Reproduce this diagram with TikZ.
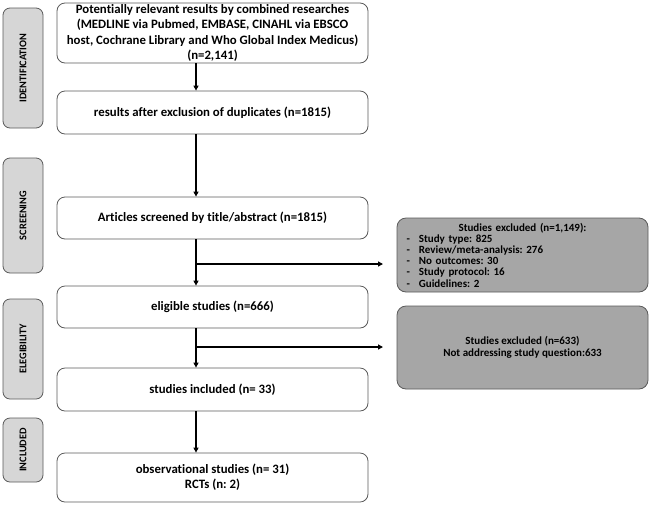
\documentclass[tikz,border=0pt]{standalone}
\usepackage{fontspec}
\setmainfont[Ligatures=NoCommon]{Carlito}
\usetikzlibrary{arrows.meta}
\definecolor{sidefill}{HTML}{D6D6D6}
\definecolor{exfill}{HTML}{A6A6A6}
\definecolor{edge}{HTML}{5A5A5A}
\frenchspacing
\begin{document}
\begin{tikzpicture}[x=1pt,y=-1pt,
  mainbox/.style={draw=edge, rounded corners=8pt, line width=0.8pt, fill=white,
    font=\bfseries\fontsize{12.8}{15.3}\selectfont, align=center, inner sep=0pt,
    minimum width=311pt},
  sidebox/.style={draw=edge, fill=sidefill, rounded corners=7pt, line width=0.8pt,
    inner sep=0pt, minimum height=40pt, rotate=90,
    font=\bfseries\fontsize{10.3}{11}\selectfont},
  exbox/.style={draw=edge, fill=exfill, rounded corners=9pt, line width=0.8pt,
    inner sep=0pt, minimum width=251pt,
    font=\bfseries\fontsize{11}{11.2}\selectfont},
  flow/.style={line width=1.5pt, -{Triangle[length=5pt,width=5pt]}}
]
\useasboundingbox (0,0) rectangle (650,504);

% side labels
\node[sidebox, minimum width=120pt] (s1) at (23,68) {IDENTIFICATION};
\node[sidebox, minimum width=115pt] (s2) at (23,215.5) {SCREENING};
\node[sidebox, minimum width=100pt] (s3) at (23,349) {ELEGIBILITY};
\node[sidebox, minimum width=64pt] (s4) at (23,450) {INCLUDED};

% main boxes
\node[mainbox, minimum height=60pt] (b1) at (212.5,33)
  {Potentially relevant results by combined researches\\
   (MEDLINE via Pubmed, EMBASE, CINAHL via EBSCO\\
   host, Cochrane Library and Who Global Index Medicus)\\
   (n=2,141)};
\node[mainbox, minimum height=43pt] (b2) at (212.5,112.5)
  {results after exclusion of duplicates (n=1815)};
\node[mainbox, minimum height=42pt] (b3) at (212.5,218)
  {Articles screened by title/abstract (n=1815)};
\node[mainbox, minimum height=42pt] (b4) at (212.5,307)
  {eligible studies (n=666)};
\node[mainbox, minimum height=43pt] (b5) at (212.5,389.5)
  {studies included (n= 33)};
\node[mainbox, minimum height=49pt] (b6) at (212.5,477.5)
  {observational studies (n= 31)\\ RCTs (n: 2)};

% exclusion boxes
\node[exbox, minimum height=74pt, text width=240pt, align=left] (x1) at (522.5,255)
  {\makebox[240pt]{Studies excluded (n=1,149):}\\
   \hspace*{4pt}-\hspace{9pt}Study type: 825\\
   \hspace*{4pt}-\hspace{9pt}Review/meta-analysis: 276\\
   \hspace*{4pt}-\hspace{9pt}No outcomes: 30\\
   \hspace*{4pt}-\hspace{9pt}Study protocol: 16\\
   \hspace*{4pt}-\hspace{9pt}Guidelines: 2};
\node[exbox, minimum height=83pt, align=center, font=\bfseries\fontsize{11}{12.5}\selectfont] (x2) at (522.5,347.5)
  {Studies excluded (n=633)\\ Not addressing study question:633};

% connectors
\coordinate (ax) at (196,0);
\coordinate (e1) at (383,264);
\coordinate (e2) at (383,347);
\draw[flow] (b1.south -| ax) -- (b2.north -| ax);
\draw[flow] (b2.south -| ax) -- (b3.north -| ax);
\draw[flow] (b3.south -| ax) -- (b4.north -| ax);
\draw[flow] (e1 -| ax) -- (e1);
\draw[flow] (b4.south -| ax) -- (b5.north -| ax);
\draw[flow] (e2 -| ax) -- (e2);
\draw[flow] (b5.south -| ax) -- (b6.north -| ax);
\end{tikzpicture}
\end{document}
